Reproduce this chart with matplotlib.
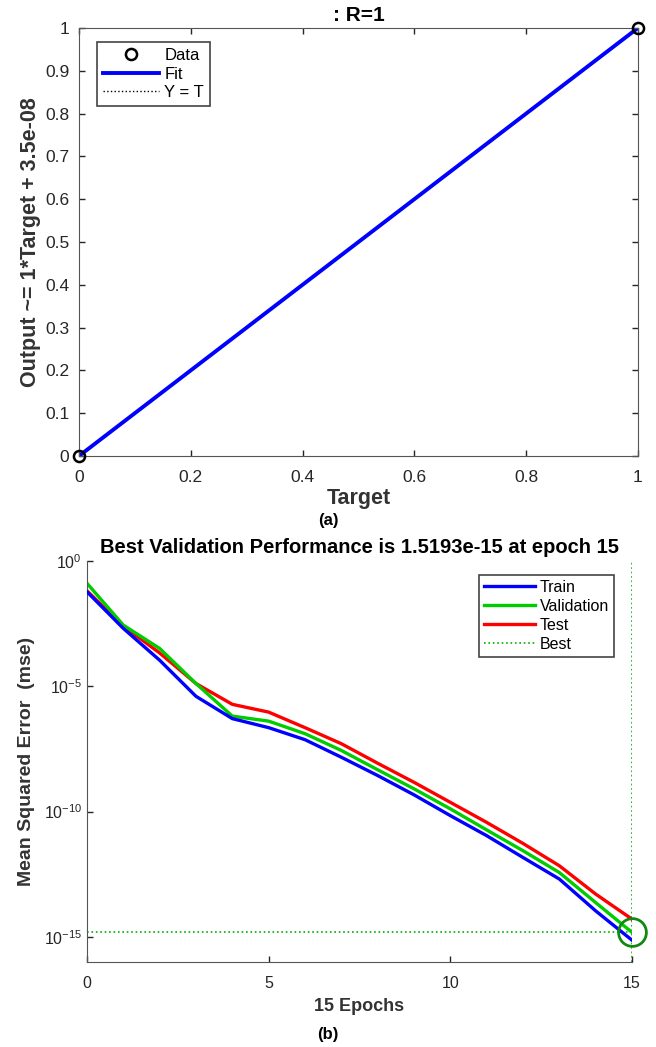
import numpy as np
import matplotlib
matplotlib.use("Agg")
from matplotlib import pyplot as plt

plt.rcParams['font.family'] = ['Liberation Sans', 'DejaVu Sans']
plt.rcParams['mathtext.default'] = 'regular'
plt.rcParams['xtick.direction'] = 'in'
plt.rcParams['ytick.direction'] = 'in'

#-------------数据-------------
# (a) 回归图
target = [0, 1]
output = [0, 1]
fit_slope = 1.0
fit_offset = 3.5e-08

# (b) 训练性能 (log10 mse)
epochs = list(range(16))
train_log = [-1.23, -2.69, -3.96, -5.40, -6.29, -6.65, -7.13, -7.83, -8.56,
             -9.33, -10.16, -10.96, -11.83, -12.69, -13.96, -15.13]
val_log = [-0.89, -2.56, -3.49, -4.89, -6.19, -6.39, -6.89, -7.56, -8.33,
           -9.09, -9.89, -10.73, -11.56, -12.43, -13.63, -14.818]
test_log = [-1.19, -2.60, -3.67, -4.89, -5.72, -6.03, -6.65, -7.29, -8.07,
            -8.83, -9.63, -10.43, -11.27, -12.16, -13.29, -14.29]
best_epoch = 15
best_perf = 1.5193e-15

gray = '#262626'
fig = plt.figure(figsize=(6.56, 10.47), dpi=100)

#-------------(a)-------------
ax1 = fig.add_axes([0.1204, 0.5645, 0.8521, 0.4088])
xx = np.array([0, 1])
ax1.plot(xx, xx, ':', color='k', lw=1, label='Y = T', zorder=1)
ax1.plot(xx, fit_slope * xx + fit_offset, '-', color='#0000ff', lw=2.8, label='Fit', zorder=2)
ax1.plot(target, output, 'o', mfc='none', mec='k', mew=1.8, ms=8, label='Data', zorder=3, clip_on=False)
ax1.set_xlim(0, 1)
ax1.set_ylim(0, 1)
ax1.set_xticks([0, 0.2, 0.4, 0.6, 0.8, 1])
ax1.set_xticklabels(['0', '0.2', '0.4', '0.6', '0.8', '1'])
ax1.set_yticks(np.round(np.arange(0, 1.01, 0.1), 1))
ax1.set_yticklabels(['0'] + ['%.1f' % v for v in np.arange(0.1, 0.95, 0.1)] + ['1'])
ax1.tick_params(top=True, right=True, labelsize=12.5, colors=gray, length=4, width=1)
ax1.tick_params(axis='x', pad=10)
ax1.tick_params(axis='y', pad=7)
for s in ax1.spines.values():
    s.set_color('#555555')
ax1.set_title(': R=1', fontsize=15, fontweight='bold', pad=5)
ax1.set_xlabel('Target', fontsize=15.5, fontweight='bold', color='#333333', labelpad=2)
ax1.set_ylabel('Output ~= 1*Target + 3.5e-08', fontsize=15.5, fontweight='bold', color='#333333', labelpad=3)
h, l = ax1.get_legend_handles_labels()
leg1 = ax1.legend([h[2], h[1], h[0]], [l[2], l[1], l[0]], loc='upper left',
                  bbox_to_anchor=(0.032, 0.967), borderaxespad=0, fontsize=12, fancybox=False,
                  edgecolor='#444444', framealpha=1, handlelength=3.4,
                  borderpad=0.35, labelspacing=0.22, handletextpad=0.3)
leg1.get_frame().set_linewidth(1.2)
fig.text(0.5, 1 - 521 / 1047, '(a)', ha='center', va='center', fontsize=12, fontweight='bold')

#-------------(b)-------------
ax2 = fig.add_axes([0.1326, 0.0812, 0.8308, 0.3830])
ax2.semilogy(epochs, 10 ** np.array(train_log), color='#0000ff', lw=2.4, label='Train', zorder=3)
ax2.semilogy(epochs, 10 ** np.array(val_log), color='#00cc00', lw=2.4, label='Validation', zorder=2)
ax2.semilogy(epochs, 10 ** np.array(test_log), color='#ff0000', lw=2.4, label='Test', zorder=1)
ax2.axhline(best_perf, color='#00b000', ls=':', lw=1.2, zorder=0)
ax2.axvline(best_epoch, color='#00b000', ls=':', lw=1.2, label='Best', zorder=0)
ax2.plot([best_epoch], [best_perf], 'o', mfc='none', mec='#118811', mew=2, ms=20, zorder=4, clip_on=False)
ax2.set_xlim(0, 15)
ax2.set_ylim(1e-16, 1e0)
ax2.set_xticks([0, 5, 10, 15])
ax2.set_yticks([1e-15, 1e-10, 1e-5, 1e0])
ax2.yaxis.set_minor_locator(matplotlib.ticker.NullLocator())
ax2.tick_params(labelsize=11.5, colors=gray, length=4, width=1)
ax2.tick_params(axis='x', pad=10)
ax2.spines['top'].set_visible(False)
ax2.spines['right'].set_visible(False)
ax2.spines['left'].set_color('#555555')
ax2.spines['bottom'].set_color('#555555')
ax2.set_title('Best Validation Performance is 1.5193e-15 at epoch 15', fontsize=14.5,
              fontweight='bold', pad=6)
ax2.set_xlabel('15 Epochs', fontsize=13, fontweight='bold', color='#333333', labelpad=5)
ax2.set_ylabel('Mean Squared Error  (mse)', fontsize=14, fontweight='bold', color='#333333', labelpad=6)
leg2 = ax2.legend(loc='upper right', bbox_to_anchor=(0.967, 0.965), borderaxespad=0,
                  fontsize=11.5, fancybox=False,
                  edgecolor='#444444', framealpha=1, handlelength=3.2,
                  borderpad=0.3, labelspacing=0.25, handletextpad=0.3)
leg2.get_frame().set_linewidth(1.2)
fig.text(0.5, 1 - 1035 / 1047, '(b)', ha='center', va='center', fontsize=12, fontweight='bold')

plt.savefig('out.png', dpi=100)
